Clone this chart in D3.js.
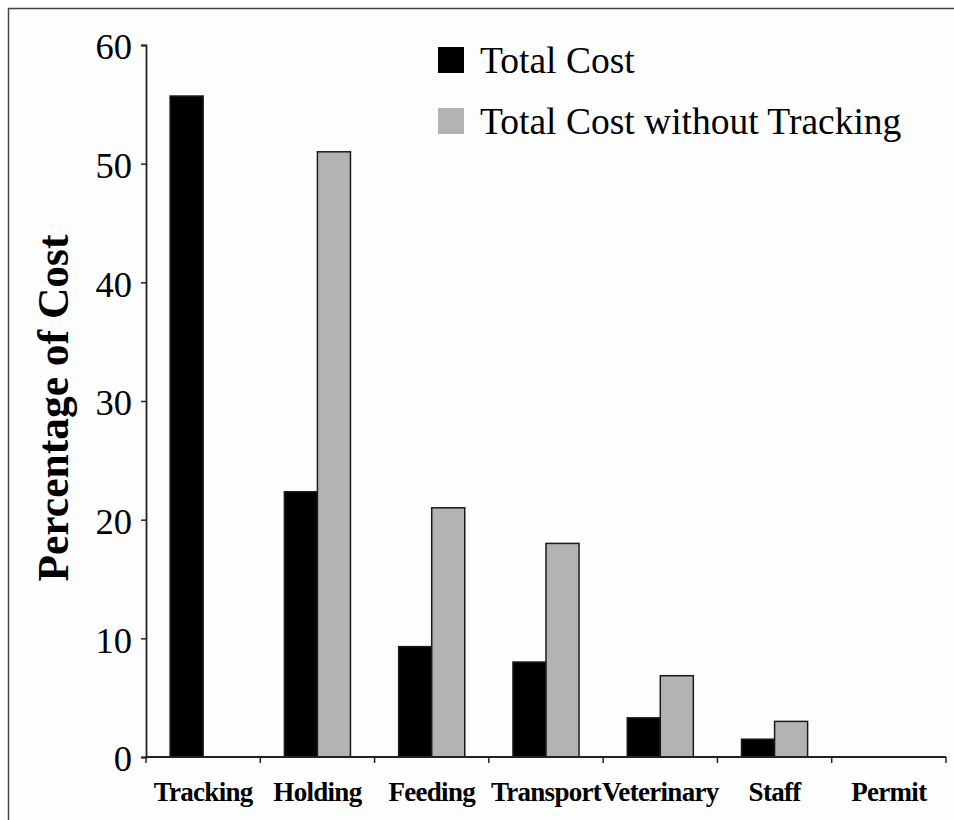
<!DOCTYPE html>
<html>
<head>
<meta charset="utf-8">
<script src="https://cdn.jsdelivr.net/npm/d3@7/dist/d3.min.js"></script>
<style>
  html, body { margin: 0; padding: 0; background: #ffffff; }
  svg { display: block; font-family: "Liberation Serif", "Times New Roman", serif; }
</style>
</head>
<body>
<svg id="chart" width="954" height="820"></svg>
<script>
const categories = ["Tracking", "Holding", "Feeding", "Transport", "Veterinary", "Staff", "Permit"];
const seriesNames = ["Total Cost", "Total Cost without Tracking"];
const totalCost = [55.7, 22.35, 9.3, 8.0, 3.3, 1.5, 0];
const totalCostWithoutTracking = [0, 51.0, 21.0, 18.0, 6.85, 3.0, 0];
const yTicks = [0, 10, 20, 30, 40, 50, 60];
const seriesColors = ["#000000", "#b3b3b3"];

const seriesValues = [totalCost, totalCostWithoutTracking];
const svg = d3.select("#chart");

// frame (top and left visible)
svg.append("rect").attr("x", 8.5).attr("y", 8.5).attr("width", 1000).attr("height", 1000)
  .attr("fill", "#fdfdfd").attr("stroke", "#444").attr("stroke-width", 1.5);

const plot = { left: 146, right: 946, top: 45, bottom: 757 };

const x0 = d3.scaleBand().domain(categories).range([plot.left, plot.right]).padding(0);
const x1 = d3.scaleBand().domain(seriesNames).range([0, x0.bandwidth()])
  .paddingInner(0).paddingOuter(0.73);
const y = d3.scaleLinear().domain([0, 60]).range([plot.bottom, plot.top]);

// bars
const groups = svg.append("g").selectAll("g").data(categories).join("g")
  .attr("transform", d => `translate(${x0(d)},0)`);
groups.selectAll("rect")
  .data((c, i) => seriesNames.map((s, j) => ({ s, j, v: seriesValues[j][i] })))
  .join("rect")
  .filter(d => d.v > 0)
  .attr("x", d => x1(d.s))
  .attr("width", x1.bandwidth())
  .attr("y", d => y(d.v))
  .attr("height", d => y(0) - y(d.v))
  .attr("fill", d => seriesColors[d.j])
  .attr("stroke", "#1a1a1a")
  .attr("stroke-width", 1.5);

// y axis
const yAxis = svg.append("g").attr("transform", `translate(${plot.left},0)`)
  .call(d3.axisLeft(y).tickValues(yTicks).tickSize(5).tickPadding(9).tickFormat(d3.format("d")));
yAxis.select(".domain").attr("stroke", "#222").attr("stroke-width", 1.8);
yAxis.selectAll(".tick line").attr("stroke", "#222").attr("stroke-width", 1.5);
yAxis.selectAll(".tick text").attr("font-size", 36.5).attr("font-family", "Liberation Serif, Times New Roman, serif")
  .attr("fill", "#000").attr("dy", "0.38em");

// x axis
const xAxis = svg.append("g");
xAxis.append("line").attr("x1", plot.left).attr("x2", plot.right)
  .attr("y1", y(0)).attr("y2", y(0)).attr("stroke", "#222").attr("stroke-width", 1.8);
const boundaries = categories.map(c => x0(c)).concat([x0.range()[1]]);
xAxis.selectAll("line.tick").data(boundaries).join("line").attr("class", "tick")
  .attr("x1", d => d).attr("x2", d => d)
  .attr("y1", y(0)).attr("y2", y(0) + 6)
  .attr("stroke", "#222").attr("stroke-width", 1.5);
xAxis.selectAll("text").data(categories).join("text")
  .attr("x", d => x0(d) + x0.bandwidth() / 2)
  .attr("y", 801)
  .attr("text-anchor", "middle")
  .attr("font-size", 27)
  .attr("font-weight", "bold")
  .attr("letter-spacing", "-0.7")
  .text(d => d);

// y title
svg.append("text")
  .attr("transform", "translate(68,408) rotate(-90)")
  .attr("text-anchor", "middle")
  .attr("font-size", 43.5)
  .attr("font-weight", "bold")
  .text("Percentage of Cost");

// legend
const legend = svg.append("g").selectAll("g").data(seriesNames).join("g")
  .attr("transform", (d, i) => `translate(438,${47 + i * 61})`);
legend.append("rect").attr("width", 26).attr("height", 26)
  .attr("fill", (d, i) => seriesColors[i]);
legend.append("text").attr("x", 42).attr("y", 26).attr("font-size", 37.5).text(d => d);
</script>
</body>
</html>
